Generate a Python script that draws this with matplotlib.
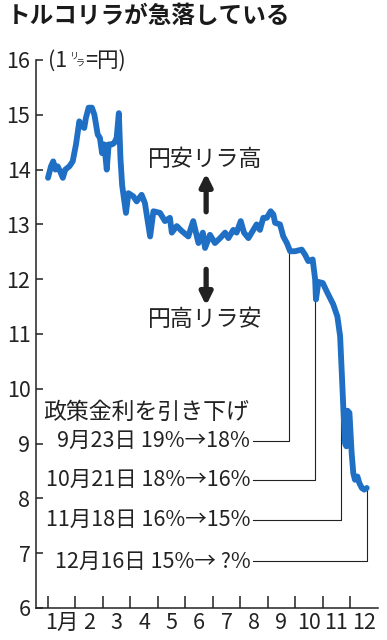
import matplotlib
matplotlib.use('Agg')
import matplotlib.pyplot as plt

plt.rcParams['font.family'] = ['Noto Sans CJK JP', 'DejaVu Sans']

# lira/yen rate, x = month position (1.0 = Jan 1)
months = [1.00, 1.11, 1.19, 1.27, 1.35, 1.44, 1.54, 1.63, 1.78, 1.90,
          2.02, 2.14, 2.24, 2.32, 2.38, 2.48, 2.60, 2.69, 2.81, 2.89,
          2.97, 3.05, 3.14, 3.21, 3.33, 3.42, 3.50, 3.58, 3.64, 3.70,
          3.74, 3.84, 3.93, 4.11, 4.23, 4.41, 4.53, 4.72, 4.84, 5.08,
          5.26, 5.44, 5.51, 5.69, 5.87, 6.11, 6.29, 6.48, 6.64, 6.72,
          6.90, 7.08, 7.27, 7.45, 7.57, 7.75, 7.87, 8.02, 8.14, 8.30,
          8.48, 8.60, 8.72, 8.84, 8.97, 9.11, 9.21, 9.27, 9.45, 9.57,
          9.70, 9.82, 10.00, 10.24, 10.36, 10.48, 10.64, 10.73, 10.76, 10.85,
          11.01, 11.15, 11.27, 11.39, 11.54, 11.64, 11.70, 11.76, 11.82, 11.87,
          11.91, 11.98, 12.06, 12.12, 12.18, 12.27, 12.34, 12.43, 12.52, 12.61]
rate = [13.85, 14.06, 14.15, 14.00, 14.06, 13.97, 13.85, 14.00, 14.06, 14.15,
        14.46, 14.88, 14.79, 14.76, 14.94, 15.13, 15.13, 15.00, 14.64, 14.58,
        14.30, 14.46, 14.00, 14.46, 14.46, 14.49, 14.58, 15.03, 14.20, 13.72,
        13.57, 13.21, 13.57, 13.51, 13.42, 13.54, 13.39, 12.78, 13.24, 13.21,
        13.06, 13.12, 12.85, 12.97, 12.88, 12.78, 13.06, 12.66, 12.85, 12.57,
        12.81, 12.66, 12.75, 12.85, 12.75, 12.90, 12.85, 13.06, 12.85, 12.75,
        12.90, 13.00, 12.90, 13.12, 13.12, 13.24, 13.18, 13.03, 13.00, 12.78,
        12.66, 12.51, 12.51, 12.54, 12.45, 12.33, 12.36, 12.00, 11.63, 11.95,
        11.93, 11.78, 11.66, 11.54, 11.32, 10.96, 10.30, 9.62, 9.00, 8.95,
        9.60, 9.56, 8.83, 8.46, 8.34, 8.40, 8.28, 8.19, 8.16, 8.19]

month_labels = ['1月', '2', '3', '4', '5', '6', '7', '8', '9', '10', '11', '12']

# policy rate cuts: label, date position, curve value at that date, label row value
cut_labels = ['9月23日 19%→18%', '10月21日 18%→16%', '11月18日 16%→15%', '12月16日 15%→ ?%']
cut_dates = [9.78, 10.73, 11.67, 12.62]
cut_tops = [12.49, 11.63, 10.11, 8.20]
cut_rows = [9.05, 8.34, 7.61, 6.85]

LINE_BLUE = '#1f6fc5'
INK = '#222222'

fig = plt.figure(figsize=(3.87, 6.40), dpi=100)
ax = fig.add_axes([36 / 387, 32 / 640, 342 / 387, 548 / 640])

ax.plot(months, rate, color=LINE_BLUE, lw=4.2, solid_joinstyle='round',
        solid_capstyle='round', zorder=3)

ax.set_xlim(0.563, 13.02)
ax.set_ylim(6, 16)

for side in ['top', 'right']:
    ax.spines[side].set_visible(False)
for side in ['left', 'bottom']:
    ax.spines[side].set_linewidth(1.1)
    ax.spines[side].set_color(INK)

ax.set_yticks(range(6, 17))
ax.set_yticklabels([str(v) for v in range(6, 17)])
ax.tick_params(axis='y', direction='in', length=5, width=1.1, pad=4,
               labelsize=15.5, colors=INK)

ax.set_xticks(range(1, 13))
ax.set_xticklabels([])
ax.set_xticks([m + 0.5 for m in range(1, 13)], minor=True)
ax.set_xticklabels(month_labels, minor=True)
ax.tick_params(axis='x', which='major', direction='in', length=9, width=1.1, colors=INK)
ax.tick_params(axis='x', which='minor', length=0, pad=3, labelsize=15.5, colors=INK)

# leader lines from rate-cut labels to the curve
x_start = 8.47
for lab, xd, top, row in zip(cut_labels, cut_dates, cut_tops, cut_rows):
    ax.plot([x_start, xd, xd], [row, row, top], color=INK, lw=0.8, zorder=2)
    ax.text(x_start - 0.1, row, lab, ha='right', va='center', fontsize=15.5, color=INK)

ax.text(0.82, 9.57, '政策金利を引き下げ', ha='left', va='center', fontsize=16.5, color=INK)

# yen weak / yen strong arrows
ax.text(6.72, 14.18, '円安リラ高', ha='center', va='center', fontsize=16.5, color=INK)
ax.text(6.72, 11.26, '円高リラ安', ha='center', va='center', fontsize=16.5, color=INK)
ax.annotate('', xy=(6.76, 13.93), xytext=(6.76, 13.23),
            arrowprops=dict(arrowstyle='-|>', lw=3.8, color=INK, mutation_scale=18,
                            shrinkA=0, shrinkB=0))
ax.annotate('', xy=(6.76, 11.52), xytext=(6.76, 12.18),
            arrowprops=dict(arrowstyle='-|>', lw=3.8, color=INK, mutation_scale=18,
                            shrinkA=0, shrinkB=0))

# title and unit
fig.text(7 / 387, 1 - 16 / 640, 'トルコリラが急落している', ha='left', va='center',
         fontsize=17, fontweight='bold', color='#1a1a1a')
fig.text(48 / 387, 1 - 61 / 640, '(1', ha='left', va='center', fontsize=15.5, color=INK)
fig.text(69 / 387, 1 - 56 / 640, 'リ', ha='left', va='center', fontsize=6.5, color=INK)
fig.text(76 / 387, 1 - 64 / 640, 'ラ', ha='left', va='center', fontsize=6.5, color=INK)
fig.text(85 / 387, 1 - 61 / 640, '=円)', ha='left', va='center', fontsize=15.5, color=INK)

fig.savefig('out.png', dpi=100)
